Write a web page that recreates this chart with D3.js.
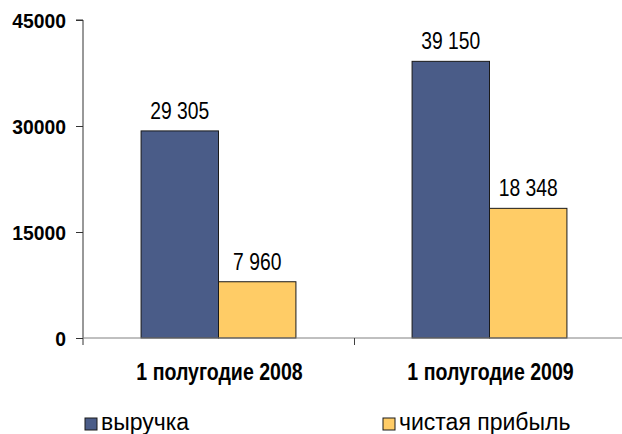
<!DOCTYPE html>
<meta charset="utf-8">
<style>
  body { margin: 0; background: #fff; }
  svg text { font-family: "Liberation Sans", Arial, sans-serif; }
</style>
<svg width="622" height="434"></svg>
<script src="https://d3js.org/d3.v7.min.js"></script>
<script>

var categories = ['1 полугодие 2008', '1 полугодие 2009']
var seriesNames = ['выручка', 'чистая прибыль']
var revenue = [29305, 39150]
var profit = [7960, 18348]
var yTicks = [0, 15000, 30000, 45000]

var colors = ['#4a5c88', '#ffcc66']

var svg = d3.select('svg')
// note: "top" clashes with window.top, so m* names
var mLeft = 83, mRight = 625, mTop = 20, mBottom = 338

var y = d3.scaleLinear().domain([0, 45000]).range([mBottom, mTop])
var x = d3.scaleBand().domain(categories).range([mLeft, mRight]).padding(0)

// excel style: 2 bars + gap of 150%
var barW = x.bandwidth() / 3.5
var gapOff = barW * 0.75

var rows = categories.map(function (c, i) {
  return { cat: c, values: [revenue[i], profit[i]] }
})

// the original text is squeezed horizontally
function squeeze(sel, sx) {
  sel.attr('transform', function () {
    var t = d3.select(this)
    var px = +t.attr('x') || 0, py = +t.attr('y') || 0
    t.attr('x', 0).attr('y', 0)
    return 'translate(' + px + ',' + py + ') scale(' + sx + ',1)'
  })
}

// y axis
var yAxis = svg.append('g')
  .attr('transform', 'translate(' + mLeft + ',0)')
  .call(d3.axisLeft(y).tickValues(yTicks).tickSize(7).tickPadding(10).tickFormat(d3.format('d')))
yAxis.attr('font-family', null)
yAxis.select('.domain').attr('stroke', '#333').attr('d', 'M0,' + (mBottom + 7) + 'V' + mTop + 'H-7')
yAxis.selectAll('.tick line').attr('stroke', '#333')
yAxis.selectAll('.tick text')
  .attr('font-size', 21).attr('font-weight', 'bold').attr('fill', '#000')
  .attr('dy', '0.36em')
  .call(squeeze, 0.92)

// bars
var groups = svg.append('g').selectAll('g')
  .data(rows)
  .enter().append('g')
    .attr('transform', function (d) { return 'translate(' + (x(d.cat) + gapOff) + ',0)' })

groups.selectAll('rect')
  .data(function (d) { return d.values })
  .enter().append('rect')
    .attr('x', function (d, i) { return i * barW })
    .attr('y', function (d) { return y(d) })
    .attr('width', barW)
    .attr('height', function (d) { return mBottom - y(d) })
    .attr('fill', function (d, i) { return colors[i] })
    .attr('stroke', '#1a1a1a')
    .attr('stroke-width', 1)

groups.selectAll('text')
  .data(function (d) { return d.values })
  .enter().append('text')
    .attr('x', function (d, i) { return i * barW + barW / 2 })
    .attr('y', function (d) { return y(d) - 12 })
    .attr('text-anchor', 'middle')
    .attr('font-size', 23)
    .text(function (d) { return d3.format(',')(d).replace(',', ' ') })
    .call(squeeze, 0.84)

// x axis: boundary ticks
var xb = d3.scaleLinear().domain([0, categories.length]).range([mLeft, mRight])
var xAxis = svg.append('g')
  .attr('transform', 'translate(0,' + mBottom + ')')
  .call(d3.axisBottom(xb).tickValues([1]).tickSize(7).tickFormat(''))
xAxis.select('.domain').attr('stroke', '#808080').attr('d', 'M' + mLeft + ',0H' + mRight)
xAxis.selectAll('.tick line').attr('stroke', '#404040')

// category labels
svg.append('g').selectAll('text')
  .data(categories)
  .enter().append('text')
    .attr('x', function (d) { return x(d) + x.bandwidth() / 2 + 1 })
    .attr('y', 380)
    .attr('text-anchor', 'middle')
    .attr('font-size', 23)
    .attr('font-weight', 'bold')
    .text(function (d) { return d })
    .call(squeeze, 0.85)

// legend
var legendX = [85, 383]
var legend = svg.append('g').selectAll('g')
  .data(seriesNames)
  .enter().append('g')
    .attr('transform', function (d, i) { return 'translate(' + legendX[i] + ',418)' })
legend.append('rect')
  .attr('width', 12).attr('height', 12)
  .attr('fill', function (d, i) { return colors[i] })
  .attr('stroke', '#1a1a1a')
legend.append('text')
  .attr('x', 16)
  .attr('y', 12)
  .attr('font-size', 23)
  .text(function (d) { return d })
</script>
